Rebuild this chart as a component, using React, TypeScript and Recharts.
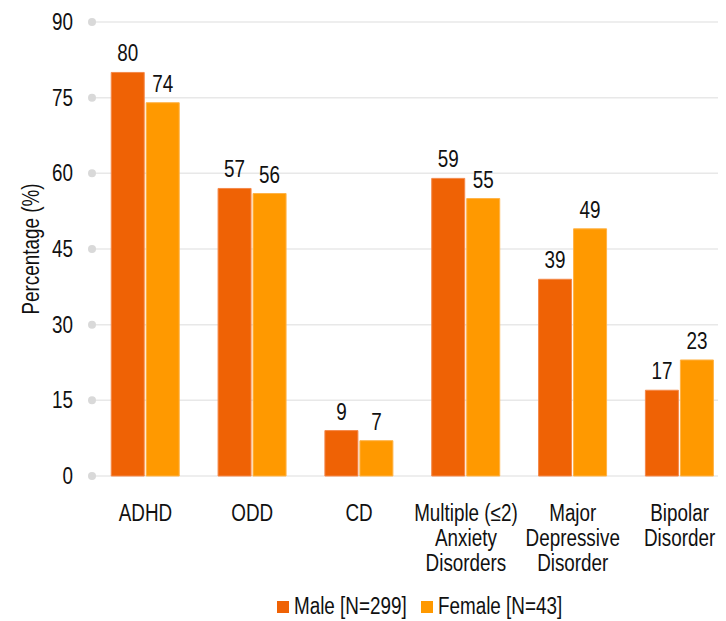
import React from "react";
import { BarChart, Bar, XAxis, YAxis, CartesianGrid, Legend, LabelList } from "recharts";

const categories = [
  "ADHD",
  "ODD",
  "CD",
  "Multiple (≤2)\nAnxiety\nDisorders",
  "Major\nDepressive\nDisorder",
  "Bipolar\nDisorder",
];
const maleValues = [80, 57, 9, 59, 39, 17];
const femaleValues = [74, 56, 7, 55, 49, 23];
const yTicks = [0, 15, 30, 45, 60, 75, 90];
const edgeTicks = [0, 1, 2, 3, 4, 5, 6];
const maleName = "Male [N=299]";
const femaleName = "Female [N=43]";

const data = categories.map((c, i) => ({ category: c, male: maleValues[i], female: femaleValues[i] }));

const FONT = "'Liberation Sans', Arial, sans-serif";
const SX = 0.82;
const FS = 23;
const MALE = "#EF6205";
const FEMALE = "#FF9900";
const TEXT = "#111";

const NText = ({ x, y, anchor = "middle", rotate = 0, children }: any) => (
  <text
    x={0}
    y={0}
    transform={`translate(${x}, ${y})${rotate ? ` rotate(${rotate})` : ""} scale(${SX}, 1)`}
    textAnchor={anchor}
    fontSize={FS}
    fontFamily={FONT}
    fill={TEXT}
  >
    {children}
  </text>
);

const YTick = (props: any) => {
  const { x, y, payload } = props;
  return (
    <g>
      <circle cx={x} cy={y} r={4} fill="#d9d9d9" />
      <NText x={x - 19} y={y + 8} anchor="end">
        {payload.value}
      </NText>
    </g>
  );
};

const XTick = (props: any) => {
  const { x, y, payload } = props;
  const lines = String(payload.value).split("\n");
  return (
    <NText x={x} y={y}>
      {lines.map((l: string, i: number) => (
        <tspan key={i} x={0} dy={i === 0 ? 37 : 25}>
          {l}
        </tspan>
      ))}
    </NText>
  );
};

const BarLabel = (props: any) => {
  const { x, y, width, value } = props;
  return (
    <NText x={x + width / 2} y={y - 11}>
      {value}
    </NText>
  );
};

const LegendContent = () => (
  <svg width={730} height={45} style={{ display: "block" }}>
    <rect x={269} y={25} width={12} height={12} fill={MALE} />
    <NText x={286} y={38} anchor="start">
      {maleName}
    </NText>
    <rect x={413} y={25} width={12} height={12} fill={FEMALE} />
    <NText x={430} y={38} anchor="start">
      {femaleName}
    </NText>
  </svg>
);

export default function App() {
  return (
    <div style={{ width: 718, height: 613, overflow: "hidden" }}>
      <BarChart
        width={730}
        height={613}
        data={data}
        margin={{ top: 14, right: 5, left: 0, bottom: 0 }}
        barGap={2}
        barCategoryGap="18%"
      >
        <CartesianGrid vertical={false} stroke="#e8e8e8" strokeWidth={1.5} />
        <XAxis
          xAxisId="edges"
          type="number"
          domain={[0, 6]}
          ticks={edgeTicks}
          height={0}
          tick={false}
          tickSize={6}
          tickLine={{ stroke: "#b5b5b5" }}
          axisLine={{ stroke: "#bdbdbd", strokeWidth: 1.5 }}
          allowDataOverflow
        />
        <XAxis
          dataKey="category"
          height={100}
          tick={<XTick />}
          tickLine={false}
          axisLine={false}
          interval={0}
        />
        <YAxis
          width={84}
          domain={[0, 90]}
          ticks={yTicks}
          tick={<YTick />}
          tickLine={false}
          axisLine={false}
          tickSize={0}
          tickMargin={0}
          label={{
            content: (p: any) => {
              const vb = p.viewBox;
              return (
                <NText x={vb.x + 31} y={vb.y + vb.height / 2} rotate={-90}>
                  Percentage (%)
                </NText>
              );
            },
          }}
        />
        <Legend
          verticalAlign="bottom"
          height={45}
          content={<LegendContent />}
          wrapperStyle={{ left: 0, width: 730 }}
        />
        <Bar dataKey="male" name={maleName} fill={MALE} stroke="#F4884A" strokeWidth={1} isAnimationActive={false}>
          <LabelList dataKey="male" content={<BarLabel />} />
        </Bar>
        <Bar dataKey="female" name={femaleName} fill={FEMALE} stroke="#FFB347" strokeWidth={1} isAnimationActive={false}>
          <LabelList dataKey="female" content={<BarLabel />} />
        </Bar>
      </BarChart>
    </div>
  );
}
